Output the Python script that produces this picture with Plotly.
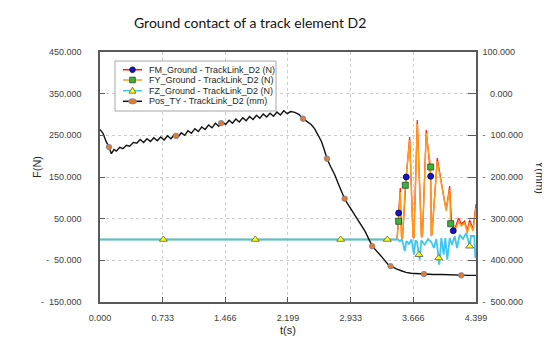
import numpy as np
import plotly.graph_objects as go

# ---------------- data ----------------
TIME_TICKS = [0.000, 0.733, 1.466, 2.199, 2.933, 3.666, 4.399]
TIME_TICK_TEXT = ["0.000", "0.733", "1.466", "2.199", "2.933", "3.666", "4.399"]
F_TICKS = [-150000, -50000, 50000, 150000, 250000, 350000, 450000]
F_TICK_TEXT = ["-\u00a0\u00a0150.000", "-\u00a0\u00a050.000", "50.000", "150.000", "250.000", "350.000", "450.000"]
Y_TICKS = [-500, -400, -300, -200, -100, 0, 100]
Y_TICK_TEXT = ["-\u00a0\u00a0500.000", "-\u00a0\u00a0400.000", "-\u00a0\u00a0300.000", "-\u00a0\u00a0200.000",
               "-\u00a0\u00a0100.000", "\u00a0\u00a0\u00a00.000", "100.000"]

FM_T = [0.000, 3.475, 3.494, 3.513, 3.527, 3.539, 3.583, 3.623, 3.662, 3.673,
        3.712, 3.761, 3.773, 3.817, 3.837, 3.869, 3.876, 3.884, 3.946, 3.974,
        3.993, 4.033, 4.051, 4.091, 4.112, 4.133, 4.150, 4.196, 4.227, 4.267,
        4.297, 4.325, 4.364, 4.399]
FM_N = [0, 0, 63600, 123600, 8400, 1200, 150000, 246000, 6000, 3600,
        286800, 6000, 8400, 262800, 219600, 151700, 8400, 13200, 195600, 159600,
        145200, 90000, 73200, 128400, 46800, 21100, 25200, 51600, 37200, 44400,
        20400, 46800, 25200, 85200]
FM_MARK_T = [3.494, 3.583, 3.869, 4.133]

FY_T = [0.000, 3.475, 3.494, 3.513, 3.527, 3.539, 3.572, 3.623, 3.662, 3.673,
        3.712, 3.726, 3.761, 3.773, 3.817, 3.837, 3.869, 3.876, 3.884, 3.946,
        3.974, 3.993, 4.033, 4.051, 4.091, 4.103, 4.126, 4.150, 4.196, 4.227,
        4.267, 4.297, 4.325, 4.364, 4.399]
FY_N = [0, 0, 43700, 114000, 8400, 1200, 130100, 238800, 6000, 3600,
        277200, 195600, 6000, 8400, 255600, 219600, 174000, 8400, 13200, 187700,
        154800, 140400, 83500, 68400, 119500, 37900, 44400, 20400, 43700, 32400,
        39600, 15600, 39600, 20400, 75600]
FY_MARK_T = [3.494, 3.572, 3.869, 4.103]

FZ_T = [0.000, 0.741, 1.817, 2.816, 3.361, 3.486, 3.510, 3.533, 3.565, 3.586,
        3.615, 3.644, 3.673, 3.691, 3.709, 3.732, 3.740, 3.759, 3.799, 3.837,
        3.876, 3.907, 3.934, 3.962, 3.969, 3.993, 4.021, 4.040, 4.063, 4.091,
        4.118, 4.150, 4.177, 4.208, 4.247, 4.285, 4.325, 4.340, 4.379, 4.391,
        4.399]
FZ_N = [0, 0, 0, 0, 0, 0, -4000, 1000, -27600, -3600,
        -10800, 0, -36500, -2000, -6000, -36500, -48500, -2000, -12500, 800,
        -6000, -20400, 1500, -44400, -60500, 3600, -36500, 3600, -48500, 3600,
        -12500, 7700, -20400, 11500, 1500, 15600, -16300, 8400, 8400, -44400,
        -35000]
FZ_MARK_T = [0.741, 1.817, 2.816, 3.361, 3.732, 3.962, 4.325]

POS_T = [0.000, 0.035, 0.070, 0.105, 0.133, 0.164, 0.191, 0.230, 0.269, 0.308, 0.347, 0.39,
         0.43, 0.47, 0.51, 0.55, 0.59, 0.63, 0.67, 0.71, 0.75, 0.79, 0.83, 0.87, 0.91, 0.95,
         0.99, 1.03, 1.07, 1.11, 1.15, 1.19, 1.23, 1.27, 1.31, 1.35, 1.39, 1.43, 1.47, 1.51,
         1.55, 1.59, 1.63, 1.67, 1.71, 1.75, 1.79, 1.83, 1.87, 1.91, 1.95, 1.99, 2.03, 2.07,
         2.11, 2.15, 2.19,
         2.23, 2.28, 2.33, 2.375, 2.47, 2.51, 2.55, 2.59, 2.62, 2.656, 2.70, 2.745, 2.80,
         2.862, 2.90, 2.94, 3.02, 3.10, 3.185, 3.24, 3.29, 3.37, 3.40, 3.46, 3.525, 3.58,
         3.64, 3.70, 3.79, 3.90, 4.00, 4.10, 4.227, 4.32, 4.399]
POS_MM = [-86, -95, -114, -128, -144, -134, -138, -129, -132, -124, -126, -117,
          -119, -110, -117, -108, -115, -106, -113, -104, -111, -101, -108, -98, -105, -94,
          -100, -89, -95, -84, -91, -80, -86, -75, -82, -71, -78, -67, -74, -64,
          -71, -61, -68, -58, -65, -55, -62, -52, -59, -49, -56, -47, -54, -44,
          -51, -41, -48,
          -43, -45, -50, -60, -74, -84, -98, -114, -132, -156, -176, -194, -222,
          -252, -265, -278, -306, -330, -366, -378, -390, -410, -414, -420, -425, -429,
          -431, -432, -433, -434, -434, -435, -436, -436, -436]
POS_MARK_T = [0.105, 0.889, 1.416, 2.375, 2.656, 2.862, 3.185, 3.40, 3.79, 4.227]

LEGEND_NAMES = ["FM_Ground - TrackLink_D2 (N)", "FY_Ground - TrackLink_D2 (N)",
                "FZ_Ground - TrackLink_D2 (N)", "Pos_TY - TrackLink_D2 (mm)"]

# ---------------- style ----------------
W, H = 550, 338
L, R, T, B = 92, 468, 44, 294
FONT = "Arial, Liberation Sans, sans-serif"
AX = "#5a5a5a"
GRID = "#cccccc"
TXT = "#404040"

C_FM, C_FY, C_FZ, C_POS = "#ff1a00", "#ff9a1a", "#3cc8f0", "#111111"
M_FM = dict(symbol="circle", size=6, color="#1414c8", line=dict(color="#000050", width=0.8))
M_FY = dict(symbol="square", size=6, color="#3cb43c", line=dict(color="#2a4a2a", width=0.8))
M_FZ = dict(symbol="triangle-up", size=7, color="#ffff00", line=dict(color="#5a5a5a", width=0.8))
M_POS = dict(symbol="circle", size=5.5, color="#e8782a", line=dict(color="#6a84a8", width=0.8))


def px(x):
    return (x - L) / (R - L)


def py(y):
    return (B - y) / (B - T)


fig = go.Figure()

fig.add_trace(go.Scatter(x=FM_T, y=FM_N, mode="lines", line=dict(color=C_FM, width=1.2), showlegend=False))
fig.add_trace(go.Scatter(x=FY_T, y=FY_N, mode="lines", line=dict(color=C_FY, width=1.5), showlegend=False))
fig.add_trace(go.Scatter(x=FZ_T, y=FZ_N, mode="lines", line=dict(color=C_FZ, width=1.8), showlegend=False))
fig.add_trace(go.Scatter(x=FM_MARK_T, y=np.interp(FM_MARK_T, FM_T, FM_N), mode="markers",
                         marker=M_FM, showlegend=False))
fig.add_trace(go.Scatter(x=FY_MARK_T, y=np.interp(FY_MARK_T, FY_T, FY_N), mode="markers",
                         marker=M_FY, showlegend=False))
fig.add_trace(go.Scatter(x=FZ_MARK_T, y=np.interp(FZ_MARK_T, FZ_T, FZ_N), mode="markers",
                         marker=M_FZ, showlegend=False))
fig.add_trace(go.Scatter(x=POS_T, y=POS_MM, mode="lines", line=dict(color=C_POS, width=1.4),
                         yaxis="y2", showlegend=False))
fig.add_trace(go.Scatter(x=POS_MARK_T, y=np.interp(POS_MARK_T, POS_T, POS_MM), mode="markers",
                         marker=M_POS, yaxis="y2", showlegend=False))

tickfont = dict(family=FONT, size=9, color=TXT)
fig.update_layout(
    width=W, height=H,
    margin=dict(l=L, r=W - R, t=T, b=H - B, pad=0),
    paper_bgcolor="white", plot_bgcolor="white",
    showlegend=False,
    xaxis=dict(range=[0, 4.399], tickvals=TIME_TICKS, ticktext=TIME_TICK_TEXT,
               ticks="inside", ticklen=5, tickcolor=AX, showline=True, linecolor=AX, linewidth=1.5,
               mirror=True, showgrid=True, gridcolor=GRID, griddash="dot", gridwidth=1,
               zeroline=False, tickfont=tickfont, ticklabelstandoff=6),
    yaxis=dict(range=[-150000, 450000], tickvals=F_TICKS, ticktext=F_TICK_TEXT,
               ticks="inside", ticklen=5, tickcolor=AX, showline=True, linecolor=AX, linewidth=1.5,
               showgrid=True, gridcolor=GRID, griddash="dot", gridwidth=1,
               zeroline=False, tickfont=tickfont, ticklabelstandoff=15),
    yaxis2=dict(range=[-500, 100], tickvals=Y_TICKS, ticktext=Y_TICK_TEXT, overlaying="y", side="right",
                ticks="inside", ticklen=8, tickcolor=AX, showline=True, linecolor=AX, linewidth=1.5,
                showgrid=False, zeroline=False, tickfont=tickfont, ticklabelstandoff=3),
)

# ---- titles (as annotations for exact placement) ----
ann = [
    dict(text="Ground contact of a track element D2", x=px(124), y=py(15), xanchor="left", yanchor="middle",
         font=dict(family="Lato, Open Sans, sans-serif", size=14, color="#111111")),
    dict(text="F(N)", x=px(29), y=py(159), textangle=-90, xanchor="center", yanchor="middle",
         font=dict(family=FONT, size=11, color="#262626")),
    dict(text="Y(mm)", x=px(532), y=py(169), textangle=90, xanchor="center", yanchor="middle",
         font=dict(family=FONT, size=11, color="#262626")),
    dict(text="t(s)", x=px(280), y=py(322), xanchor="center", yanchor="middle",
         font=dict(family=FONT, size=11, color="#262626")),
]

# ---- legend drawn manually to match the compact box ----
shapes = [dict(type="rect", xref="paper", yref="paper", x0=px(107), x1=px(268), y0=py(103), y1=py(53),
               line=dict(color="#a6a6a6", width=1), fillcolor="white", layer="above")]
rows = [61.7, 72.0, 82.7, 93.3]
colors = [C_FM, C_FY, C_FZ, C_POS]
mk = [M_FM, M_FY, M_FZ, M_POS]
for i, (ry, col, m, name) in enumerate(zip(rows, colors, mk, LEGEND_NAMES)):
    shapes.append(dict(type="line", xref="paper", yref="paper", x0=px(115), x1=px(134), y0=py(ry), y1=py(ry),
                       line=dict(color=col, width=1.5), layer="above"))
    base = dict(xref="paper", yref="paper", xsizemode="pixel", ysizemode="pixel",
                xanchor=px(124.5), yanchor=py(ry), fillcolor=m["color"],
                line=dict(color=m["line"]["color"], width=0.8), layer="above")
    if i == 0:
        shapes.append(dict(type="circle", x0=-2.8, x1=2.8, y0=-2.8, y1=2.8, **base))
    elif i == 1:
        shapes.append(dict(type="rect", x0=-2.8, x1=2.8, y0=-2.8, y1=2.8, **base))
    elif i == 2:
        shapes.append(dict(type="path", path="M -3.5,-2.5 L 3.5,-2.5 L 0,3.5 Z", **base))
    else:
        shapes.append(dict(type="circle", x0=-4, x1=4, y0=-2.6, y1=2.6, **base))
    ann.append(dict(text=name, x=px(139), y=py(ry), xanchor="left", yanchor="middle", showarrow=False,
                    font=dict(family=FONT, size=9, color="#262626")))

for a in ann:
    a.setdefault("showarrow", False)
    a["xref"] = "paper"
    a["yref"] = "paper"

fig.update_layout(annotations=ann, shapes=shapes)
fig.write_html("out.html")
